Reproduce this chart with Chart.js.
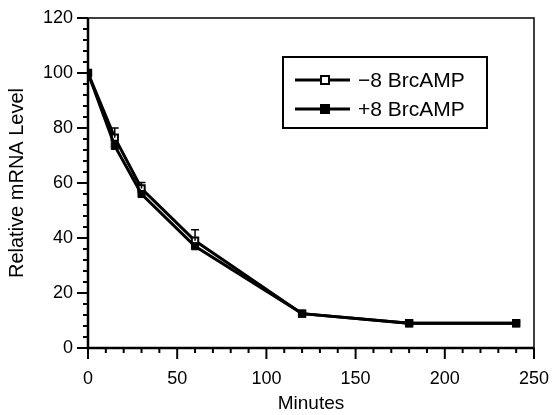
<!DOCTYPE html>
<html>
<head>
<meta charset="utf-8">
<script src="https://cdn.jsdelivr.net/npm/chart.js@4"></script>
<style>
  html, body { margin: 0; padding: 0; background: #fff; }
  #wrap { width: 553px; height: 415px; }
</style>
</head>
<body>
<div id="wrap"><canvas id="decayChart" width="553" height="415"></canvas></div>
<script>
// Data
const minutes = [0, 15, 30, 60, 120, 180, 240];
const minusBrcAMP = [100, 76.5, 58, 39, 12.5, 9, 9];
const minusErr = [0, 3.5, 2.2, 4, 0.5, 0.5, 0.5];
const plusBrcAMP = [100, 73.5, 56, 37, 12.5, 9, 9];
const seriesLabels = ['\u22128 BrcAMP', '+8 BrcAMP'];

const FONT = '"Liberation Sans", Arial, sans-serif';

// Ticks, frame, error bars and legend drawn by hand
const framePlugin = {
    id: 'frame',
    afterDatasetsDraw(chart) {
        const ctx = chart.ctx;
        const xs = chart.scales.x, ys = chart.scales.y;
        const a = chart.chartArea;
        ctx.save();
        ctx.strokeStyle = '#000';

        // error bars for the open series (upper whisker)
        ctx.lineWidth = 1.5;
        minutes.forEach((m, i) => {
            if (!minusErr[i]) return;
            const x = xs.getPixelForValue(m);
            const y0 = ys.getPixelForValue(minusBrcAMP[i]);
            const y1 = ys.getPixelForValue(minusBrcAMP[i] + minusErr[i]);
            ctx.beginPath();
            ctx.moveTo(x, y0); ctx.lineTo(x, y1);
            ctx.moveTo(x - 4, y1); ctx.lineTo(x + 4, y1);
            ctx.stroke();
        });

        // frame
        ctx.lineWidth = 1.5;
        ctx.beginPath();
        ctx.moveTo(a.left, a.top); ctx.lineTo(a.right, a.top); ctx.lineTo(a.right, a.bottom);
        ctx.stroke();
        ctx.lineWidth = 2.5;
        ctx.beginPath();
        ctx.moveTo(a.left, a.top); ctx.lineTo(a.left, a.bottom); ctx.lineTo(a.right, a.bottom);
        ctx.stroke();

        // y ticks, every 4, major every 20
        ctx.lineWidth = 2;
        for (let v = 0; v <= 120; v += 4) {
            const y = ys.getPixelForValue(v);
            const len = v % 20 === 0 ? 11 : 5;
            ctx.beginPath(); ctx.moveTo(a.left - len, y); ctx.lineTo(a.left, y); ctx.stroke();
        }
        // x ticks, every 10, major every 50
        for (let v = 0; v <= 250; v += 10) {
            const x = xs.getPixelForValue(v);
            const len = v % 50 === 0 ? 11 : 5;
            ctx.beginPath(); ctx.moveTo(x, a.bottom); ctx.lineTo(x, a.bottom + len); ctx.stroke();
        }

        // legend box
        const bx = 283, by = 57, bw = 204, bh = 71;
        ctx.lineWidth = 2;
        ctx.strokeRect(bx, by, bw, bh);
        ctx.font = '21px ' + FONT;
        ctx.fillStyle = '#000';
        ctx.textBaseline = 'middle';
        [80, 109].forEach((y, i) => {
            ctx.lineWidth = 3;
            ctx.beginPath(); ctx.moveTo(295, y); ctx.lineTo(350, y); ctx.stroke();
            if (i === 0) {
                ctx.fillStyle = '#fff';
                ctx.fillRect(321, y - 4, 8, 8);
                ctx.lineWidth = 2;
                ctx.strokeRect(321, y - 4, 8, 8);
                ctx.fillStyle = '#000';
            } else {
                ctx.fillRect(320, y - 5, 10, 10);
            }
            ctx.fillText(seriesLabels[i], 358, y + 1);
        });
        ctx.restore();
    }
};

const ctx = document.getElementById('decayChart').getContext('2d');
const chart = new Chart(ctx, {
    type: 'line',
    data: {
        labels: minutes,
        datasets: [{
            label: seriesLabels[1],
            data: minutes.map((m, i) => ({ x: m, y: plusBrcAMP[i] })),
            borderColor: '#000',
            backgroundColor: '#000',
            borderWidth: 3,
            pointStyle: 'rect',
            pointRadius: 5,
            pointBorderWidth: 1,
            pointBackgroundColor: '#000',
            pointBorderColor: '#000',
            tension: 0
        }, {
            label: seriesLabels[0],
            data: minutes.map((m, i) => ({ x: m, y: minusBrcAMP[i] })),
            borderColor: '#000',
            backgroundColor: '#fff',
            borderWidth: 3,
            pointStyle: 'rect',
            pointRadius: 4.5,
            pointBorderWidth: 2,
            pointBackgroundColor: '#fff',
            pointBorderColor: '#000',
            tension: 0
        }]
    },
    options: {
        responsive: false,
        animation: false,
        layout: { padding: { left: 0, top: 18, right: 19, bottom: 0 } },
        plugins: { legend: { display: false }, tooltip: { enabled: false } },
        scales: {
            x: {
                type: 'linear',
                min: 0, max: 250,
                afterFit: s => { s.height = 67; s.paddingLeft = 0; s.paddingRight = 0; },
                grid: { display: false, drawTicks: false },
                border: { display: false },
                ticks: {
                    stepSize: 10,
                    autoSkip: false,
                    maxRotation: 0,
                    padding: 20,
                    color: '#000',
                    font: { family: FONT, size: 18 },
                    callback: v => (v % 50 === 0 ? v : '')
                },
                title: {
                    display: true,
                    text: 'Minutes',
                    color: '#000',
                    font: { family: FONT, size: 19 },
                    padding: { top: 2, bottom: 0 }
                }
            },
            y: {
                min: 0, max: 120,
                afterFit: s => { s.width = 88; s.paddingTop = 0; s.paddingBottom = 0; },
                grid: { display: false, drawTicks: false },
                border: { display: false },
                ticks: {
                    stepSize: 4,
                    autoSkip: false,
                    padding: 15,
                    color: '#000',
                    font: { family: FONT, size: 18 },
                    callback: v => (v % 20 === 0 ? v : '')
                },
                title: {
                    display: true,
                    text: 'Relative mRNA Level',
                    color: '#000',
                    font: { family: FONT, size: 20 },
                    padding: { top: 5, bottom: 4 }
                }
            }
        }
    },
    plugins: [framePlugin]
});
</script>
</body>
</html>
